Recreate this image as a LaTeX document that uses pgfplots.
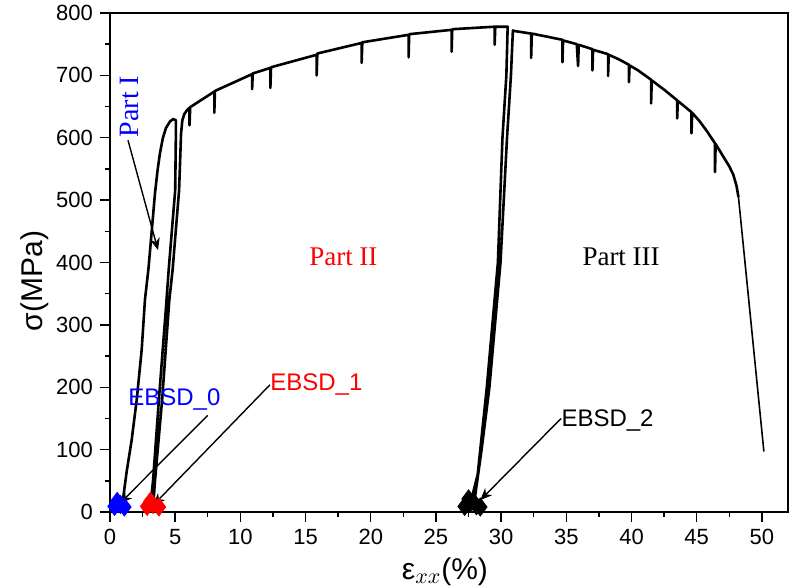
\documentclass[border=0pt]{standalone}
\usepackage{fontspec}
\setmainfont{Liberation Sans}
\newfontfamily\timesfont{Liberation Serif}
\usepackage{pgfplots}
\pgfplotsset{compat=1.18}
\usetikzlibrary{arrows.meta}

\begin{document}
\begin{tikzpicture}
\begin{axis}[
  scale only axis, width=339pt, height=249.5pt,
  xmin=0, xmax=52, ymin=0, ymax=800,
  xtick={0,5,...,50}, minor x tick num=1,
  ytick={0,100,...,800}, minor y tick num=1,
  tick pos=left, tick align=outside,
  major tick length=5pt, minor tick length=2.5pt,
  every tick/.style={black, line width=0.7pt},
  axis line style={line width=0.8pt},
  tick label style={font=\fontsize{11}{13}\selectfont,
    /pgf/number format/assume math mode=true},
  xlabel={ε$_{xx}$(\%)}, ylabel={σ(MPa)},
  label style={font=\fontsize{15}{18}\selectfont},
  x label style={at={(axis description cs:0.494,-0.120)}, anchor=center},
  y label style={at={(axis description cs:-0.1106,0.463)}, anchor=center},
  clip=false]

% EBSD positions (blobs at the bottom)
\addplot[only marks, mark=diamond*, mark size=4.5pt, blue] coordinates {
  (0.35,9) (0.8,12) (1.1,8) (0.55,17)};
\addplot[only marks, mark=diamond*, mark size=4.5pt, red] coordinates {
  (2.85,9) (3.3,12) (3.75,8) (3.1,17)};
\addplot[only marks, mark=diamond*, mark size=4.5pt, black] coordinates {
  (27.2,9) (27.6,14) (28.1,10) (28.4,8) (27.5,21)};

% stress-strain curve
\addplot[black, line width=1.3pt, line join=round] coordinates {
  (0.45,2) (0.75,10) (1.02,24) (1.28,65) (1.66,115) (2.05,180) (2.43,260)
  (2.68,340) (2.95,390) (3.2,450) (3.45,511) (3.65,548) (3.83,575) (4.06,600)
  (4.3,616) (4.6,626) (4.85,630) (5.05,628)
  (5.05,600) (5.0,516) (4.5,388) (4.3,330) (3.75,180) (3.3,50) (3.15,20) (3.2,8)
  (3.35,20) (3.45,50) (4.0,180) (4.55,340) (4.8,388) (5.3,516) (5.45,607)
  (5.55,628) (5.7,638) (5.9,644) (6.1,648) (6.1,620) (6.15,649)
  (8.0,674) (8.0,640) (8.05,675)
  (10.9,702) (10.9,678) (10.95,703)
  (12.3,712) (12.3,680) (12.35,713)
  (15.85,733) (15.85,700) (15.9,735)
  (19.3,752) (19.3,720) (19.35,753)
  (22.9,765) (22.9,729) (22.95,766)
  (26.2,773) (26.2,738) (26.25,774)
  (29.5,778) (29.5,749) (29.55,778)
  (30.5,778)
  (30.4,700) (30.1,600) (29.75,400) (28.9,200) (28.2,60) (27.6,10)
  (27.9,10) (28.5,100) (29.1,200) (29.95,400) (30.45,600) (30.75,700) (30.9,772)
  (31.05,771) (32.3,767) (32.3,728) (32.35,767)
  (34.7,757) (34.7,721) (34.75,756)
  (35.8,750) (35.9,715) (35.95,749)
  (37.0,742) (37.0,708) (37.05,741)
  (38.2,734) (38.2,699) (38.25,733)
  (39.0,726) (39.8,717) (39.8,689) (39.85,716)
  (40.5,708) (41.5,693) (41.5,655) (41.55,692)
  (42.5,677) (43.5,660) (43.5,631) (43.55,659)
  (44.6,641) (44.6,607) (44.65,640)
  (45.2,627) (45.8,610) (46.4,591) (46.4,545) (46.45,590)
  (47.0,571) (47.5,554) (47.8,541) (48.05,523) (48.2,505)};
% fracture
\addplot[black, line width=0.8pt] coordinates {(48.2,505) (50.15,97)};

% annotations
\draw[line width=0.7pt, -{Stealth[length=6pt,width=5pt]}] (axis cs:1.38,596) -- (axis cs:3.68,420);
\draw[line width=0.7pt, -{Stealth[length=6pt,width=5pt]}] (axis cs:7.5,155) -- (axis cs:0.77,14);
\draw[line width=0.7pt, -{Stealth[length=6pt,width=5pt]}] (axis cs:12.27,204) -- (axis cs:3.32,11);
\draw[line width=0.7pt, -{Stealth[length=6pt,width=5pt]}] (axis cs:34.6,150) -- (axis cs:28.4,19);

\node[blue, rotate=90, font=\timesfont\fontsize{14}{16}\selectfont] at (axis cs:1.53,650) {Part I};
\node[red, font=\timesfont\fontsize{13.5}{16}\selectfont] at (axis cs:17.9,409) {Part II};
\node[black, font=\timesfont\fontsize{13.5}{16}\selectfont] at (axis cs:39.2,409) {Part III};
\node[blue, anchor=west, inner sep=0pt, font=\fontsize{12}{14}\selectfont] at (axis cs:1.38,180) {EBSD\_0};
\node[red, anchor=west, inner sep=0pt, font=\fontsize{12}{14}\selectfont] at (axis cs:12.27,204) {EBSD\_1};
\node[black, anchor=west, inner sep=0pt, font=\fontsize{12}{14}\selectfont] at (axis cs:34.6,146) {EBSD\_2};
\end{axis}
\pgfresetboundingbox
\path ([shift={(-55pt,-37pt)}]current axis.south west) rectangle ([shift={(1.5pt,6.5pt)}]current axis.north east);
\end{tikzpicture}
\end{document}
